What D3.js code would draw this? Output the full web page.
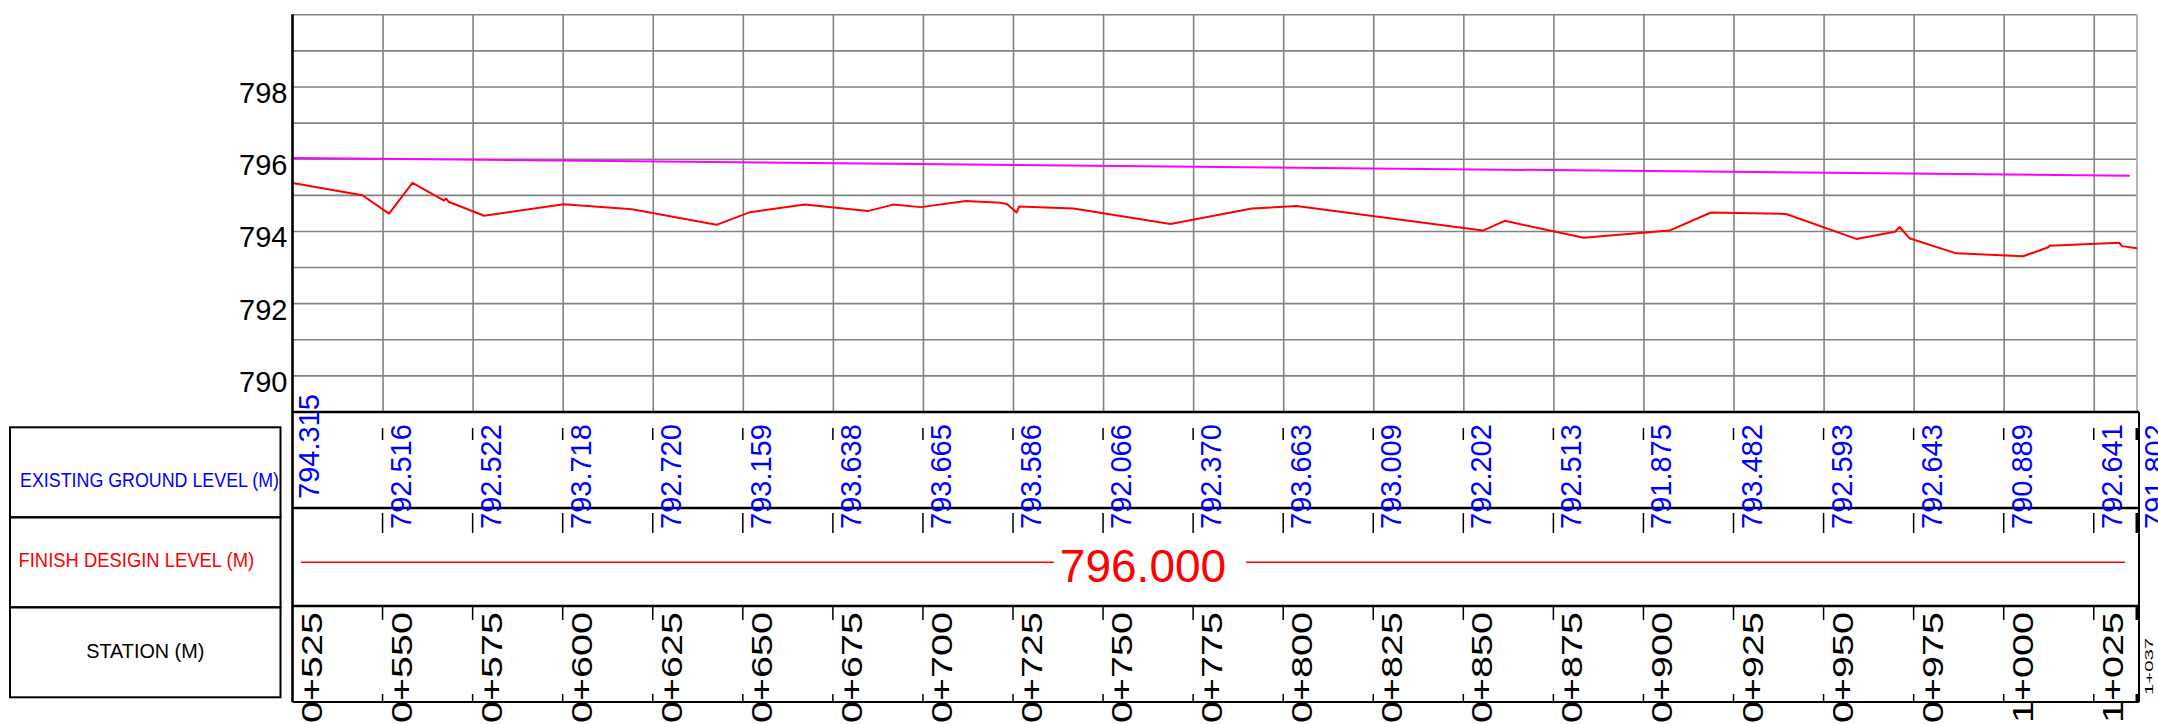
<!DOCTYPE html>
<html>
<head>
<meta charset="utf-8">
<script src="https://d3js.org/d3.v7.min.js"></script>
<style>
  body { margin: 0; background: #fff; }
  svg { display: block; }
</style>
</head>
<body>
<div id="profile"></div>
<script>
// chainage of each grid column (m)
const stations = [525, 550, 575, 600, 625, 650, 675, 700, 725, 750, 775, 800, 825, 850, 875, 900, 925, 950, 975, 1000, 1025];
const endStation = 1037;
const stationLabels = ["0+525", "0+550", "0+575", "0+600", "0+625", "0+650", "0+675", "0+700", "0+725", "0+750", "0+775",
  "0+800", "0+825", "0+850", "0+875", "0+900", "0+925", "0+950", "0+975", "1+000", "1+025"];
const endStationLabel = "1+037";

// existing ground level text row (last one belongs to 1+037)
const groundLevelLabels = ["794.315", "792.516", "792.522", "793.718", "792.720", "793.159", "793.638", "793.665", "793.586",
  "792.066", "792.370", "793.663", "793.009", "792.202", "792.513", "791.875", "793.482", "792.593", "792.643",
  "790.889", "792.641", "791.802"];
const designLevelLabel = "796.000";

// existing ground profile [station, elevation]
const groundProfile = [
  [525, 795.33], [544.4, 794.99], [551.8, 794.48], [558.3, 795.33], [567.1, 794.84], [567.6, 794.90], [568.3, 794.81],
  [578.2, 794.42], [600.3, 794.74], [619.2, 794.60], [642.7, 794.17], [652.0, 794.52], [667.2, 794.73], [684.7, 794.55],
  [691.7, 794.73], [699.4, 794.66], [711.9, 794.83], [721.6, 794.78], [723.4, 794.74], [726.0, 794.51], [726.7, 794.68],
  [741.8, 794.62], [768.7, 794.19], [791.3, 794.62], [803.7, 794.69], [855.4, 794.01], [861.5, 794.28], [883.4, 793.81],
  [907.2, 794.01], [918.7, 794.51], [939.6, 794.47], [959.1, 793.78], [969.8, 793.98], [971.1, 794.11], [973.8, 793.80],
  [986.8, 793.38], [1005.4, 793.30], [1012.4, 793.55], [1012.7, 793.59], [1032.1, 793.67], [1032.8, 793.58], [1037, 793.52]
];
// finish design grade line
const designProfile = [[525, 796.02], [1035, 795.53]];

const elevLabels = [790, 792, 794, 796, 798];
const rowTitles = ["EXISTING GROUND LEVEL (M)", "FINISH DESIGIN LEVEL (M)", "STATION (M)"];
const rowColors = ["#0000ff", "#ff0000", "#000000"];

const W = 2158, H = 724;
const FONT = "'Liberation Sans', Arial, Helvetica, sans-serif";
const NARROW = "'Liberation Sans Narrow', 'Arial Narrow', " + FONT;

const svg = d3.select("#profile").append("svg")
  .attr("width", W)
  .attr("height", H);

const x = d3.scaleLinear().domain([525, endStation]).range([292.5, 2137]);
const y = d3.scaleLinear().domain([789, 800]).range([411.5, 14.3]);

// horizontal grid, one line a metre
svg.append("g")
  .attr("transform", "translate(" + x(525) + ",0)")
  .call(d3.axisLeft(y).ticks(11).tickSize(-(x(endStation) - x(525))).tickFormat(""))
  .call(g => g.select(".domain").remove())
  .call(g => g.selectAll("line").attr("stroke", "#828282").attr("stroke-width", 1.6));

// vertical grid at each station
svg.append("g")
  .attr("transform", "translate(0," + y(789) + ")")
  .call(d3.axisBottom(x).tickValues(stations.slice(1)).tickSize(-(y(789) - y(800))).tickFormat(""))
  .call(g => g.select(".domain").remove())
  .call(g => g.selectAll("line").attr("stroke", "#828282").attr("stroke-width", 1.6));

// right edge of the plot
svg.append("line")
  .attr("x1", x(endStation)).attr("x2", x(endStation))
  .attr("y1", y(800)).attr("y2", y(789))
  .attr("stroke", "#b4b4b4").attr("stroke-width", 2);

// elevation labels
svg.append("g").selectAll("text")
  .data(elevLabels)
  .join("text")
  .attr("x", x(525) - 5)
  .attr("y", d => y(d) + 16.5)
  .attr("text-anchor", "end")
  .attr("font-family", FONT)
  .attr("font-size", 29)
  .text(d => d);

// design line and ground line
const line = d3.line().x(d => x(d[0])).y(d => y(d[1]));

svg.append("path")
  .datum(designProfile)
  .attr("d", line)
  .attr("fill", "none")
  .attr("stroke", "#ff00ff")
  .attr("stroke-width", 2);

svg.append("path")
  .datum(groundProfile)
  .attr("d", line)
  .attr("fill", "none")
  .attr("stroke", "#ff0000")
  .attr("stroke-width", 2)
  .attr("stroke-linejoin", "round");

// ---- data band below the profile ----
const bandRows = [412, 508, 606, 702];
const bandRight = x(endStation) + 2;

svg.append("g").selectAll("line")
  .data(bandRows)
  .join("line")
  .attr("x1", x(525)).attr("x2", bandRight)
  .attr("y1", d => d).attr("y2", d => d)
  .attr("stroke", "#000")
  .attr("stroke-width", (d, i) => i === 3 ? 2 : 2.6);

// left axis line runs from top of plot to bottom of band
svg.append("line")
  .attr("x1", x(525)).attr("x2", x(525))
  .attr("y1", y(800)).attr("y2", bandRows[3])
  .attr("stroke", "#000").attr("stroke-width", 2.6);

svg.append("line")
  .attr("x1", bandRight).attr("x2", bandRight)
  .attr("y1", bandRows[0]).attr("y2", bandRows[3])
  .attr("stroke", "#000").attr("stroke-width", 2);

// small tick marks at each station
const tickSpans = [[428, 440], [513, 533], [607, 620], [694, 703]];
const tickStations = stations.slice(1).concat([endStation]);
tickSpans.forEach(span => {
  svg.append("g").selectAll("line")
    .data(tickStations)
    .join("line")
    .attr("x1", d => x(d)).attr("x2", d => x(d))
    .attr("y1", span[0]).attr("y2", span[1])
    .attr("stroke", "#000")
    .attr("stroke-width", d => d === endStation ? 3 : 1.5);
});

// existing ground levels, rotated
const groundStations = stations.concat([endStation]);
svg.append("g").selectAll("text")
  .data(groundLevelLabels)
  .join("text")
  .attr("transform", (d, i) => {
    let tx = x(groundStations[i]) + (i === 0 ? 26 : 28);
    let ty = i === 0 ? 499 : 529;
    return "translate(" + tx + "," + ty + ") rotate(-90)";
  })
  .attr("font-family", FONT)
  .attr("font-size", 29)
  .attr("fill", "#0000ff")
  .text(d => d);

// finish design level
const designText = svg.append("text")
  .attr("x", 1143)
  .attr("y", 582.3)
  .attr("text-anchor", "middle")
  .attr("font-family", FONT)
  .attr("font-size", 46)
  .attr("fill", "#ff0000")
  .text(designLevelLabel);
const tb = designText.node().getBBox();

svg.append("g").selectAll("line")
  .data([[x(525) + 8.5, tb.x - 6], [tb.x + tb.width + 20, x(endStation) - 12]])
  .join("line")
  .attr("x1", d => d[0]).attr("x2", d => d[1])
  .attr("y1", 562.3).attr("y2", 562.3)
  .attr("stroke", "#ff0000").attr("stroke-width", 1.6);

// station labels, stretched like the CAD text
svg.append("g").selectAll("text")
  .data(stationLabels)
  .join("text")
  .attr("transform", (d, i) => "translate(" + (x(stations[i]) + 29) + ",723) rotate(-90)")
  .attr("font-family", FONT)
  .attr("font-size", 29)
  .attr("textLength", 111)
  .attr("lengthAdjust", "spacingAndGlyphs")
  .text(d => d);

svg.append("text")
  .attr("transform", "translate(" + (x(endStation) + 16) + ",695) rotate(-90)")
  .attr("font-family", FONT)
  .attr("font-size", 11)
  .attr("textLength", 57)
  .attr("lengthAdjust", "spacingAndGlyphs")
  .text(endStationLabel);

// title boxes on the left
const boxTop = [427.3, 517.3, 607.3];
const titleBase = [487, 566.5, 658];
const titleX = [20, 18.5, 86.3];
const titleLen = [259, 235.6, 118];

svg.append("g").selectAll("rect")
  .data(rowTitles)
  .join("rect")
  .attr("x", 10)
  .attr("y", (d, i) => boxTop[i])
  .attr("width", 270.5)
  .attr("height", 90)
  .attr("fill", "none")
  .attr("stroke", "#000")
  .attr("stroke-width", 2);

svg.append("g").selectAll("text")
  .data(rowTitles)
  .join("text")
  .attr("x", (d, i) => titleX[i])
  .attr("y", (d, i) => titleBase[i])
  .attr("font-family", NARROW)
  .attr("font-size", 20)
  .attr("textLength", (d, i) => titleLen[i])
  .attr("lengthAdjust", "spacingAndGlyphs")
  .attr("fill", (d, i) => rowColors[i])
  .text(d => d);
</script>
</body>
</html>
